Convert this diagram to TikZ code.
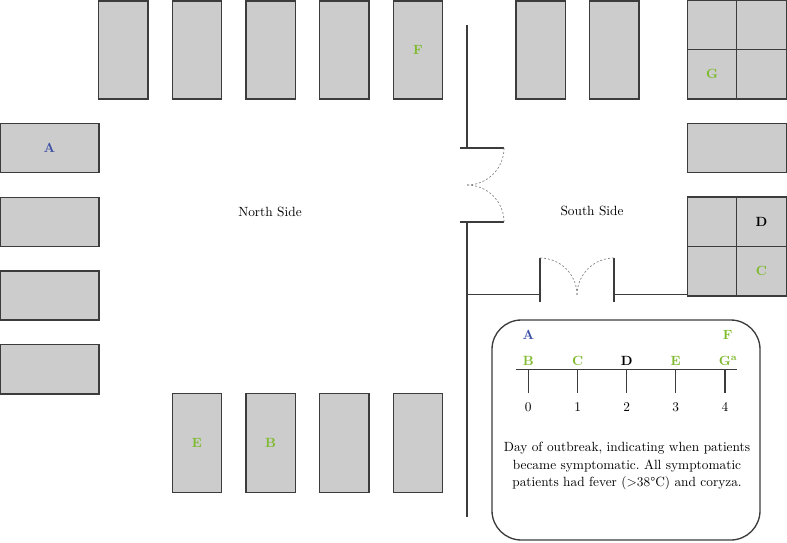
\documentclass[tikz,border=0pt]{standalone}
\usepackage{tikz}
\definecolor{ptgreen}{RGB}{126,186,46}
\definecolor{ptblue}{RGB}{62,82,166}
\definecolor{wallgray}{RGB}{60,60,60}
\frenchspacing
\begin{document}
\begin{tikzpicture}[x=0.75pt,y=-0.75pt,
  room/.style={draw=wallgray, fill=black!20, line width=1.1pt, inner sep=0pt, font=\bfseries},
  tall/.style={room, minimum width=37.1pt, minimum height=73.6pt},
  wide/.style={room, minimum width=74.2pt, minimum height=37pt},
  sq/.style={room, minimum width=37.2pt, minimum height=37.2pt},
  wall/.style={draw=wallgray, line width=1.1pt},
  swing/.style={draw=gray, line width=0.5pt, dash pattern=on 1.5pt off 1.5pt},
  lab/.style={font=\bfseries, inner sep=0pt},
  num/.style={inner sep=0pt}]
\useasboundingbox (0,0) rectangle (787,542);
% top row
\node[tall] (t1) at (123.3,50) {};
\node[tall] (t2) at (197,50) {};
\node[tall] (t3) at (270.7,50) {};
\node[tall] (t4) at (344.2,50) {};
\node[tall, text=ptgreen] (t5) at (418,50) {F};
\node[tall] (t6) at (540.7,50) {};
\node[tall] (t7) at (614.2,50) {};
% left column
\node[wide, text=ptblue] (l1) at (49.5,148) {A};
\node[wide] (l2) at (49.5,222) {};
\node[wide] (l3) at (49.5,295.5) {};
\node[wide] (l4) at (49.5,369.2) {};
% bottom row
\node[tall, minimum height=74.2pt, text=ptgreen] (b1) at (197,442.8) {E};
\node[tall, minimum height=74.2pt, text=ptgreen] (b2) at (270.5,442.8) {B};
\node[tall, minimum height=74.2pt] (b3) at (344.2,442.8) {};
\node[tall, minimum height=74.2pt] (b4) at (418,442.8) {};
% right column
\node[sq] (s1) at (712.2,24.9) {};
\node[sq] (s2) at (761.5,24.9) {};
\node[sq, text=ptgreen] (s3) at (712.2,74.4) {G};
\node[sq] (s4) at (761.5,74.4) {};
\node[wide] (r1) at (736.8,148) {};
\node[sq] (s5) at (712.2,222) {};
\node[sq] (s6) at (761.5,222) {D};
\node[sq] (s7) at (712.2,271.3) {};
\node[sq, text=ptgreen] (s8) at (761.5,271.3) {C};
% walls
\draw[wall] (467,25) -- (467,148);
\draw[wall] (460,148) -- (504,148);
\draw[wall] (460,222) -- (504,222);
\draw[wall] (467,222) -- (467,517);
\draw[wall] (467,294.5) -- (540,294.5);
\draw[wall] (540,258) -- (540,302);
\draw[wall] (614,258) -- (614,302);
\draw[wall] (614,294.5) -- (687.3,294.5);
% door swings
\draw[swing] (504,148) .. controls (504,168.4) and (487.4,185) .. (467,185);
\draw[swing] (504,222) .. controls (504,201.6) and (487.4,185) .. (467,185);
\draw[swing] (540,258) .. controls (560.4,258) and (577,274.6) .. (577,295);
\draw[swing] (614,258) .. controls (593.6,258) and (577,274.6) .. (577,295);
% side labels
\node (north) at (270,212) {North Side};
\node (south) at (592,211) {South Side};
% legend box
\draw[wallgray, line width=1pt, rounded corners=22pt] (492,320) rectangle (760,540);
\coordinate (tlA) at (516,369.3);
\coordinate (tlB) at (737,369.3);
\draw[wallgray, line width=1pt] (tlA) -- (tlB);
\foreach \x/\n in {528.3/0, 577.7/1, 626.7/2, 675.7/3, 725/4} {
  \draw[wallgray, line width=1pt] (\x,369.3) -- (\x,393);
  \node[num] (n\n) at (\x,407) {\n};
}
\node[lab, text=ptgreen] (kB) at (528.3,360.5) {B};
\node[lab, text=ptgreen] (kC) at (577.7,360.5) {C};
\node[lab] (kD) at (626.7,360.5) {D};
\node[lab, text=ptgreen] (kE) at (675.7,360.5) {E};
\node[lab, text=ptgreen, anchor=west] (kG) at (718.5,360.5) {G\textsuperscript{a}};
\node[lab, text=ptblue] (kA) at (528.3,335) {A};
\node[lab, text=ptgreen] (kF) at (727.7,335) {F};
\node[align=center, inner sep=0pt, font=\fontsize{10}{13.3}\selectfont] (cap) at (627,466)
  {Day of outbreak, indicating when patients\\became symptomatic. All symptomatic\\patients had fever (\textgreater 38\textdegree C) and coryza.};
\end{tikzpicture}
\end{document}
